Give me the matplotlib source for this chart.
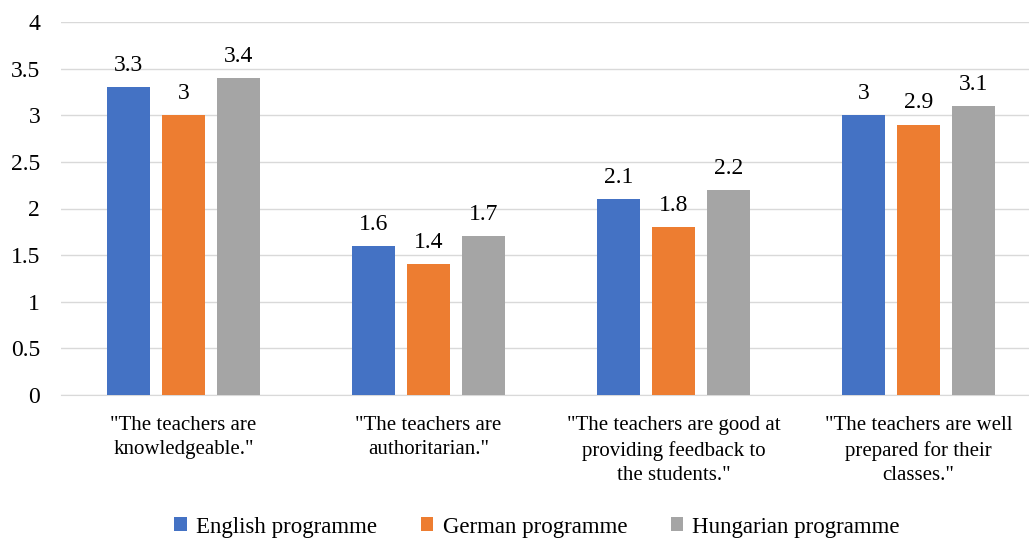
import matplotlib
matplotlib.use("Agg")
import matplotlib.pyplot as plt
import numpy as np

categories = ['"The teachers are\nknowledgeable."',
              '"The teachers are\nauthoritarian."',
              '"The teachers are good at\nproviding feedback to\nthe students."',
              '"The teachers are well\nprepared for their\nclasses."']
english = [3.3, 1.6, 2.1, 3.0]
german = [3.0, 1.4, 1.8, 2.9]
hungarian = [3.4, 1.7, 2.2, 3.1]
series_names = ["English programme", "German programme", "Hungarian programme"]
colors = ["#4472C4", "#ED7D31", "#A5A5A5"]

plt.rcParams['font.family'] = ['Liberation Serif', 'DejaVu Serif']

fig = plt.figure(figsize=(10.29, 5.42), dpi=100)
# axes area in pixels: x 61..1041, y 22..395
ax = fig.add_axes([61/1029, 147/542, 980/1029, 373/542])

x = np.arange(len(categories))
w = 0.1755
off = 0.2245
for i, (vals, name, c) in enumerate(zip([english, german, hungarian], series_names, colors)):
    bars = ax.bar(x + (i - 1) * off, vals, width=w, color=c, label=name, zorder=3)
    for b, v in zip(bars, vals):
        ax.text(b.get_x() + b.get_width() / 2, v + 0.12, f"{v:g}",
                ha="center", va="bottom", fontsize=17)

ax.set_xlim(-0.5, 3.5)
ax.set_ylim(0, 4)
ax.set_yticks(np.arange(0, 4.01, 0.5))
ax.set_yticklabels([f"{t:g}" for t in np.arange(0, 4.01, 0.5)], fontsize=17)
ax.set_xticks(x)
ax.set_xticklabels(categories, fontsize=15, linespacing=1.4)
ax.tick_params(axis="both", length=0)
ax.tick_params(axis="y", pad=15)
ax.tick_params(axis="x", pad=15)
ax.yaxis.grid(True, color="#D9D9D9", linewidth=1, zorder=0)
for s in ["top", "right", "left"]:
    ax.spines[s].set_visible(False)
ax.spines["bottom"].set_color("#D9D9D9")

fig.legend(loc="center", bbox_to_anchor=(0.522, 15/542), ncol=3, frameon=False,
           fontsize=16.5, handlelength=0.55, handleheight=0.55, columnspacing=1.9, handletextpad=0.4)

fig.savefig("out.png", dpi=100)
